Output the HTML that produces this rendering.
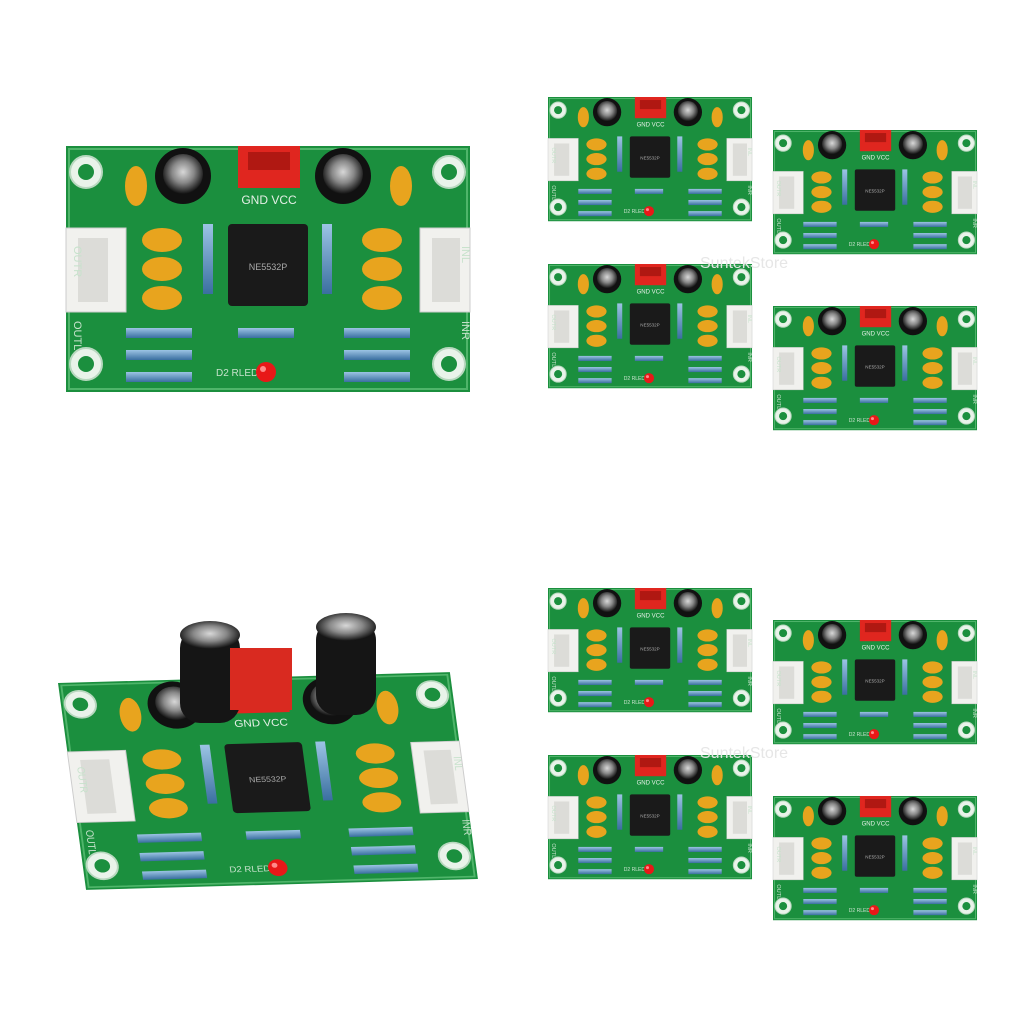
<!DOCTYPE html>
<html><head><meta charset="utf-8"><style>
html,body{margin:0;padding:0;background:#fff;width:1024px;height:1024px;overflow:hidden}
</style></head><body>
<svg width="1024" height="1024" viewBox="0 0 1024 1024" xmlns="http://www.w3.org/2000/svg" font-family="Liberation Sans, sans-serif">
<defs>
<radialGradient id="cap" cx="50%" cy="45%" r="55%"><stop offset="0" stop-color="#d8d8d8"/><stop offset="0.5" stop-color="#888"/><stop offset="1" stop-color="#111"/></radialGradient>
<linearGradient id="res" x1="0" y1="0" x2="0" y2="1"><stop offset="0" stop-color="#9cc4e4"/><stop offset="1" stop-color="#3a6fa0"/></linearGradient>
<g id="board">
  <rect x="0" y="0" width="404" height="246" fill="#1b8f3e"/>
  <rect x="3" y="3" width="398" height="240" fill="none" stroke="#4fb56a" stroke-width="2"/>
  <g fill="#e9f3ea" stroke="#b8d8bf" stroke-width="2">
    <circle cx="20" cy="26" r="16"/><circle cx="383" cy="26" r="16"/><circle cx="20" cy="218" r="16"/><circle cx="383" cy="218" r="16"/>
  </g>
  <g fill="#1b8f3e"><circle cx="20" cy="26" r="8"/><circle cx="383" cy="26" r="8"/><circle cx="20" cy="218" r="8"/><circle cx="383" cy="218" r="8"/></g>
  <circle cx="117" cy="30" r="28" fill="#111"/><circle cx="117" cy="28" r="20" fill="url(#cap)"/>
  <circle cx="277" cy="30" r="28" fill="#111"/><circle cx="277" cy="28" r="20" fill="url(#cap)"/>
  <rect x="172" y="0" width="62" height="42" fill="#e0261f"/><rect x="182" y="6" width="42" height="18" fill="#b01812"/>
  <rect x="0" y="82" width="60" height="84" fill="#f1f1ee" stroke="#ccc"/><rect x="12" y="92" width="30" height="64" fill="#dcdcd8"/>
  <rect x="354" y="82" width="50" height="84" fill="#f1f1ee" stroke="#ccc"/><rect x="366" y="92" width="28" height="64" fill="#dcdcd8"/>
  <g fill="#e8a41e">
    <ellipse cx="70" cy="40" rx="11" ry="20"/><ellipse cx="335" cy="40" rx="11" ry="20"/>
    <ellipse cx="96" cy="94" rx="20" ry="12"/><ellipse cx="96" cy="123" rx="20" ry="12"/><ellipse cx="96" cy="152" rx="20" ry="12"/>
    <ellipse cx="316" cy="94" rx="20" ry="12"/><ellipse cx="316" cy="123" rx="20" ry="12"/><ellipse cx="316" cy="152" rx="20" ry="12"/>
  </g>
  <text x="203" y="58" font-size="12" fill="#e4efe6" text-anchor="middle">GND VCC</text>
  <rect x="162" y="78" width="80" height="82" rx="4" fill="#1a1a1a"/>
  <text x="202" y="124" font-size="9" fill="#aaa" text-anchor="middle">NE5532P</text>
  <g fill="url(#res)">
    <rect x="137" y="78" width="10" height="70"/><rect x="256" y="78" width="10" height="70"/>
    <rect x="60" y="182" width="66" height="10"/><rect x="172" y="182" width="56" height="10"/><rect x="278" y="182" width="66" height="10"/>
    <rect x="60" y="204" width="66" height="10"/><rect x="278" y="204" width="66" height="10"/>
    <rect x="60" y="226" width="66" height="10"/><rect x="278" y="226" width="66" height="10"/>
  </g>
  <g fill="#c7e2cc"><text x="8" y="100" font-size="11" transform="rotate(90 8 100)">OUTR</text><text x="8" y="175" font-size="11" transform="rotate(90 8 175)">OUTL</text>
  <text x="396" y="100" font-size="11" transform="rotate(90 396 100)">INL</text><text x="396" y="175" font-size="11" transform="rotate(90 396 175)">INR</text>
  <text x="150" y="230" font-size="10">D2 RLED</text></g>
  <circle cx="200" cy="226" r="10" fill="#e81818"/><circle cx="197" cy="223" r="3" fill="#ff8a8a"/>
</g>
</defs>
<use href="#board" transform="translate(66,146)"/>
<use href="#board" transform="translate(548,97) scale(0.505)"/>
<use href="#board" transform="translate(773,130) scale(0.505)"/>
<use href="#board" transform="translate(548,264) scale(0.505)"/>
<use href="#board" transform="translate(773,306) scale(0.505)"/>
<use href="#board" transform="translate(548,588) scale(0.505)"/>
<use href="#board" transform="translate(773,620) scale(0.505)"/>
<use href="#board" transform="translate(548,755) scale(0.505)"/>
<use href="#board" transform="translate(773,796) scale(0.505)"/>
<use href="#board" transform="matrix(0.970,-0.027,0.114,0.841,58,683)"/>
<rect x="180" y="628" width="60" height="95" rx="20" fill="#151515"/><ellipse cx="210" cy="635" rx="30" ry="14" fill="url(#cap)"/>
<rect x="316" y="620" width="60" height="95" rx="20" fill="#151515"/><ellipse cx="346" cy="627" rx="30" ry="14" fill="url(#cap)"/>
<rect x="230" y="648" width="62" height="62" fill="#d92a20"/>
<text x="700" y="268" font-size="16" fill="#e6e6e6">SuntekStore</text>
<text x="700" y="758" font-size="16" fill="#e6e6e6">SuntekStore</text>
</svg>
</body></html>
